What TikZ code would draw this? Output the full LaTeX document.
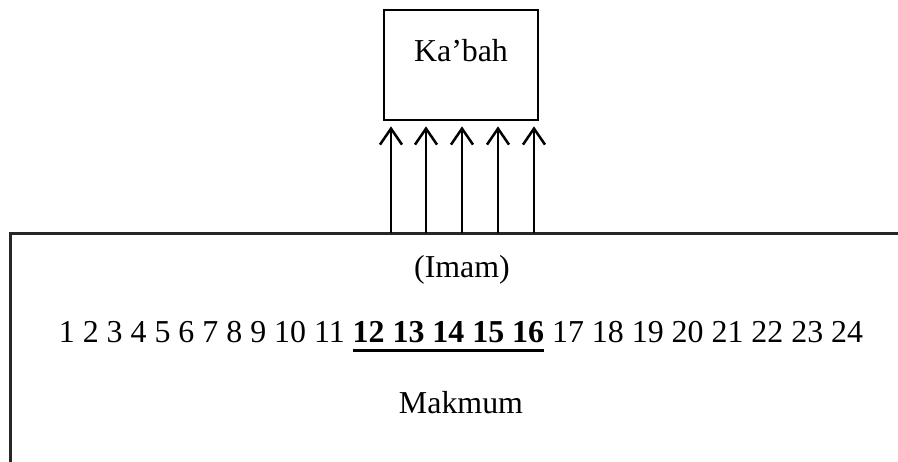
\documentclass[tikz,border=0pt]{standalone}
\usepackage{fontspec}
\setmainfont{Liberation Serif}
\usetikzlibrary{arrows.meta}
\newcommand\myulbold[1]{\setbox0\hbox{\bfseries #1}\rlap{\raisebox{-9.5pt}{\rule{\wd0}{3pt}}}\box0\relax}
\tikzset{
  txt/.style={anchor=base, inner sep=0pt, font=\fontsize{31.9}{38}\selectfont},
  frame/.style={line width=3pt, draw=black!85},
  kbox/.style={draw, line width=2.8pt, minimum width=154pt, minimum height=110pt, inner sep=0pt},
  arr/.style={line width=2.5pt, -{Straight Barb[length=16pt, width=22pt, line width=2.5pt]}, shorten >=5pt}
}
\begin{document}
\begin{tikzpicture}[x=1pt, y=-1pt]
\useasboundingbox (0,0) rectangle (898,462);
\node[kbox] (kaaba) at (461,65) {};
\node[txt] (ktext) at (461,62) {Ka’bah};
\coordinate (tl) at (10,234);
\coordinate (tr) at (898,234);
\coordinate (bl) at (10,462);
\draw[frame] (tr) -- (tl) -- (bl);
\foreach \i/\x in {1/391,2/426,3/462,4/498,5/534}{
  \coordinate (a\i) at (\x,233);
  \draw[arr] (a\i) -- (a\i |- kaaba.south);
}
\node[txt] (imam) at (462,278) {(Imam)};
\node[txt] (nums) at (461,343) {1 2 3 4 5 6 7 8 9 10 11 \myulbold{12 13 14 15 16} 17 18 19 20 21 22 23 24};
\node[txt] (makmum) at (461,414) {Makmum};
\end{tikzpicture}
\end{document}
